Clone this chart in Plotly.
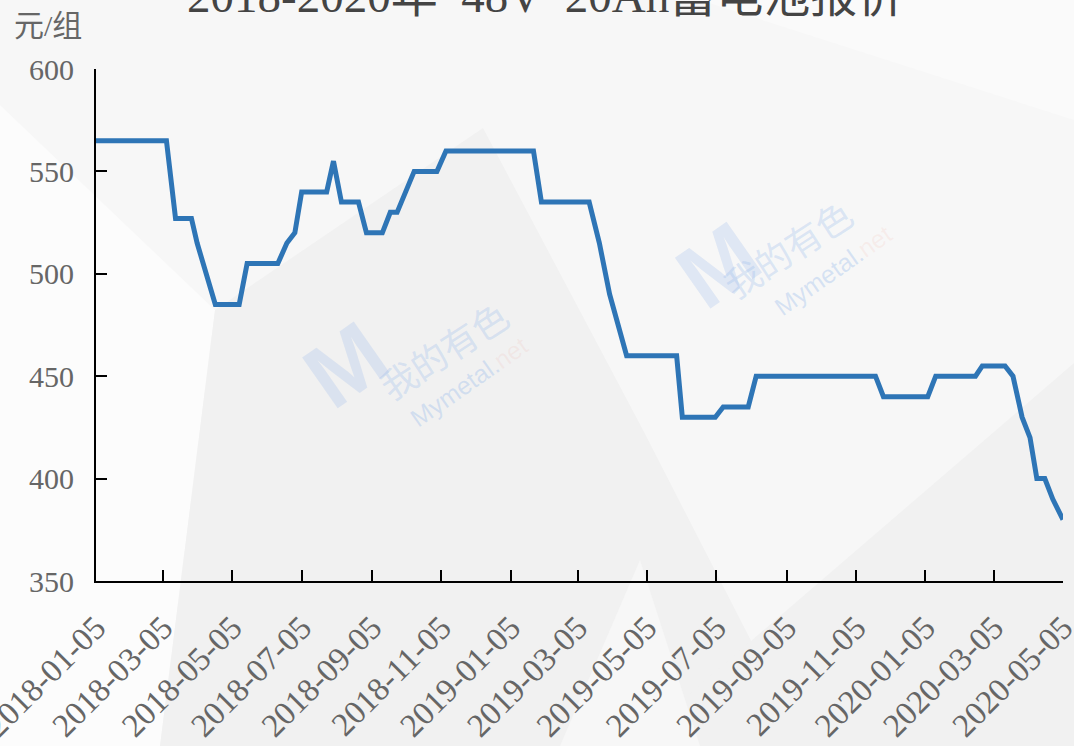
import plotly.graph_objects as go
import pandas as pd

dates = ["2018-01-05", "2018-03-08", "2018-03-16", "2018-03-30", "2018-04-04", "2018-04-12",
         "2018-04-20", "2018-05-11", "2018-05-18", "2018-06-14", "2018-06-22", "2018-06-29",
         "2018-07-05", "2018-07-27", "2018-08-02", "2018-08-09", "2018-08-24", "2018-08-31",
         "2018-09-14", "2018-09-21", "2018-09-27", "2018-10-12", "2018-11-01", "2018-11-09",
         "2019-01-25", "2019-02-01", "2019-03-15", "2019-03-24", "2019-04-02", "2019-04-17",
         "2019-05-31", "2019-06-05", "2019-07-04", "2019-07-11", "2019-08-02", "2019-08-09",
         "2019-11-22", "2019-11-29", "2020-01-07", "2020-01-14", "2020-02-18", "2020-02-24",
         "2020-03-15", "2020-03-22", "2020-03-30", "2020-04-06", "2020-04-12", "2020-04-19",
         "2020-04-26", "2020-05-05"]
prices = [565, 565, 527, 527, 515, 500,
          485, 485, 505, 505, 515, 520,
          540, 540, 555, 535, 535, 520,
          520, 530, 530, 550, 550, 560,
          560, 535, 535, 515, 490, 460,
          460, 430, 430, 435, 435, 450,
          450, 440, 440, 450, 450, 455,
          455, 450, 430, 420, 400, 400,
          390, 380]

tick_labels = ["2018-01-05", "2018-03-05", "2018-05-05", "2018-07-05", "2018-09-05", "2018-11-05",
               "2019-01-05", "2019-03-05", "2019-05-05", "2019-07-05", "2019-09-05", "2019-11-05",
               "2020-01-05", "2020-03-05", "2020-05-05"]
y_ticks = [350, 400, 450, 500, 550, 600]

title_text = "2018-2020年  48V  20Ah蓄电池报价"
unit_text = "元/组"
wm_cn = "我的有色"
wm_en = "Mymetal."
wm_en2 = "net"

FONT = "'Liberation Serif', 'DejaVu Serif', 'Noto Sans CJK SC', serif"

fig = go.Figure()
fig.add_trace(go.Scatter(
    x=pd.to_datetime(dates), y=prices, mode="lines",
    line=dict(color="#2e75b6", width=5), hoverinfo="x+y", showlegend=False,
))

W, H = 1074, 746
L, R, T, B = 96, 11, 69, 165
PW, PH = W - L - R, H - T - B

def px(x, y):
    return (x - L) / PW, (H - B - y) / PH

def poly_px(pts, color):
    path = "M " + " L ".join("{},{}".format(*px(x, y)) for x, y in pts) + " Z"
    fig.add_shape(type="path", path=path, xref="paper", yref="paper",
                  fillcolor=color, line=dict(width=0), layer="below")

# subtle geometric background
poly_px([(0, 105), (215, 310), (160, 746), (0, 746)], "#fcfcfc")
poly_px([(483, 128), (215, 310), (160, 746), (805, 746), (643, 430)], "#f1f1f1")
poly_px([(629, 746), (1074, 363), (1074, 746)], "#f1f1f1")
poly_px([(560, 746), (700, 746), (640, 560)], "#f7f7f7")
poly_px([(700, 0), (1074, 0), (1074, 120)], "#fafafa")

# watermarks
for dx, dy in [(0, 0), (498, -165)]:
    ax, ay = px(283 + dx, 430 + dy)
    fig.add_annotation(x=ax, y=ay, xref="paper", yref="paper", text="<b>M</b>",
                       showarrow=False, textangle=-35,
                       font=dict(size=90, color="rgba(150,185,235,0.25)", family="Arial"))
    ax, ay = px(366 + dx, 349 + dy)
    fig.add_annotation(x=ax, y=ay, xref="paper", yref="paper", text=wm_cn,
                       showarrow=False, textangle=-33,
                       font=dict(size=36, color="rgba(150,185,235,0.3)", family="Noto Sans CJK SC"))
    ax, ay = px(402 + dx, 382 + dy)
    fig.add_annotation(x=ax, y=ay, xref="paper", yref="paper",
                       text=wm_en + "<span style='color:rgba(240,160,150,0.35)'>" + wm_en2 + "</span>",
                       showarrow=False, textangle=-35,
                       font=dict(size=25, color="rgba(150,185,235,0.35)", family="Arial"))

ux, uy = px(12, 25)
fig.add_annotation(x=ux, y=uy, xref="paper", yref="paper", text=unit_text, showarrow=False,
                   xanchor="left", yanchor="middle",
                   font=dict(size=30, color="#666666", family=FONT))

tx, ty = px(545, -4)
fig.add_annotation(x=tx, y=ty, xref="paper", yref="paper", text=title_text, showarrow=False,
                   xanchor="center", yanchor="middle",
                   font=dict(size=47, color="#444444", family=FONT))

fig.update_layout(
    width=W, height=H,
    margin=dict(l=L, r=R, t=T, b=B, autoexpand=False),
    paper_bgcolor="#f7f7f7", plot_bgcolor="rgba(0,0,0,0)",
    font=dict(family=FONT, color="#666666"),
    xaxis=dict(
        type="date", range=[pd.Timestamp("2018-01-05"), pd.Timestamp("2020-05-05 00:30")],
        tickvals=pd.to_datetime(tick_labels), ticktext=tick_labels, tickangle=-45,
        showgrid=False, zeroline=False, showline=True, linecolor="black", linewidth=2,
        ticks="inside", ticklen=11, tickwidth=2, tickcolor="black", automargin=False,
        ticklabelstandoff=12, ticklabeloverflow="allow",
        tickfont=dict(size=33, color="#666666", family=FONT),
    ),
    yaxis=dict(
        range=[350, 600], tickvals=y_ticks, showgrid=False, zeroline=False,
        showline=True, linecolor="black", linewidth=2, automargin=False,
        ticks="inside", ticklen=11, tickwidth=2, tickcolor="black",
        ticklabelstandoff=14,
        tickfont=dict(size=30, color="#666666", family=FONT),
    ),
)

fig.write_html("out.html", config={"displayModeBar": False},
               post_script="document.body.style.margin='0';document.body.style.overflow='hidden';")
